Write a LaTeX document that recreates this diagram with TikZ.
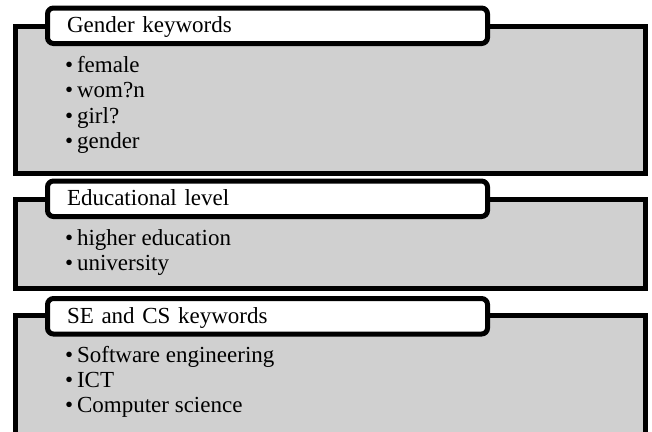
\documentclass[tikz,border=0pt]{standalone}
\usepackage{fontspec}
\setmainfont{Liberation Serif}
\usetikzlibrary{positioning}
\definecolor{panelgray}{RGB}{208,208,208}

\begin{document}
\begin{tikzpicture}[
			x=1pt, y=-1pt,
			font=\fontsize{23}{26}\selectfont,
			panel/.style={
					draw,
					fill=panelgray,
					line width=5pt,
					anchor=north west,
					outer sep=0pt,
					inner sep=0pt,
					minimum width=629.5pt
				},
			tab/.style={
					draw,
					fill=white,
					rounded corners=6pt,
					line width=5pt,
					anchor=north west,
					outer sep=0pt,
					inner ysep=0pt,
					inner xsep=19.5pt,
					text width=401pt,
					align=left,
					minimum height=35.5pt,
					text height=16pt,
					text depth=2pt
				},
			item/.style={
					anchor=base west,
					inner sep=0pt
				}
			]

			\useasboundingbox (0,0) rectangle (652,431);
			\clip (0,0) rectangle (652,431);

			% ================= Gender =================
			\node[panel, minimum height=147pt] (genderbox) at (15.5,26) {};
			\node[tab] (gendertab) at (47.5,8) {Gender keywords};
			\node[item] (female) at (65,72) {\textbullet\,female};
			\node[item] (woman) at (65,97.5) {\textbullet\,wom?n};
			\node[item] (girl) at (65,123) {\textbullet\,girl?};
			\node[item] (gender) at (65,148.5) {\textbullet\,gender};

			% ================= Educational level =================
			\node[panel, minimum height=89pt] (edubox) at (15.5,199) {};
			\node[tab] (edutab) at (47.5,181) {Educational level};
			\node[item] (higher) at (65,245) {\textbullet\,higher education};
			\node[item] (univ) at (65,270.5) {\textbullet\,university};

			% ================= SE and CS =================
			% bottom edge lies below the page, as in the original
			\node[panel, minimum height=130pt] (sebox) at (15.5,315.5) {};
			\node[tab] (setab) at (47.5,298.5) {SE and CS keywords};
			\node[item] (software) at (65,362) {\textbullet\,Software engineering};
			\node[item] (ict) at (65,387) {\textbullet\,ICT};
			\node[item] (compsci) at (65,412) {\textbullet\,Computer science};

		\end{tikzpicture}
\end{document}
